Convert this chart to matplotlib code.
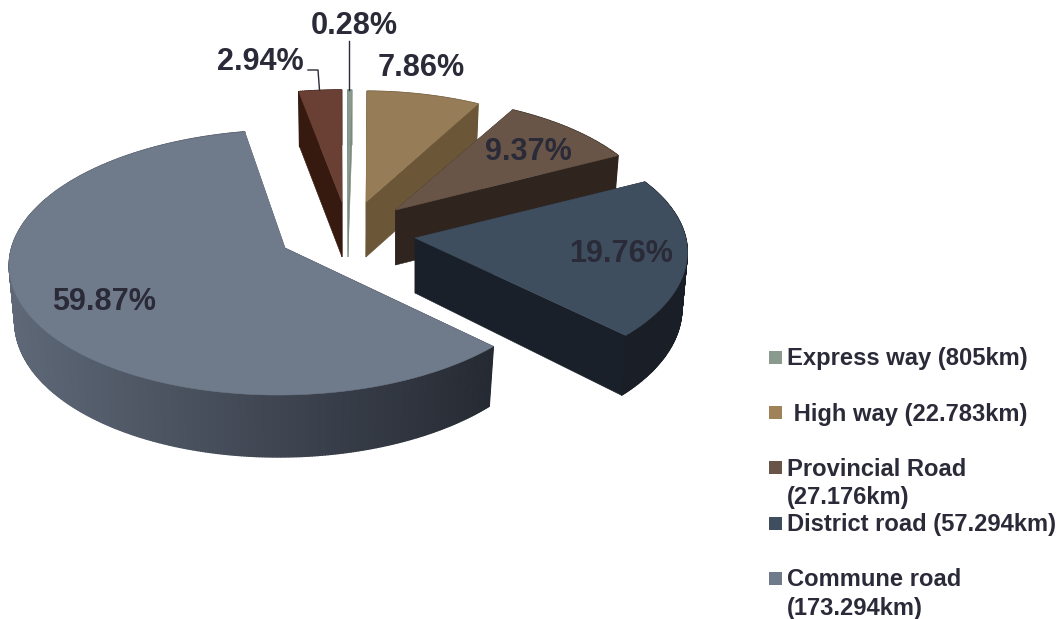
import numpy as np
import matplotlib
matplotlib.use("Agg")
import matplotlib.pyplot as plt
from matplotlib.colors import to_rgb
from matplotlib.patches import Polygon, Rectangle

plt.rcParams['font.family'] = ['Liberation Sans', 'DejaVu Sans']

# road network shares, in clockwise drawing order
shares = [59.87, 2.94, 0.28, 7.86, 9.37, 19.76]
share_labels = ["59.87%", "2.94%", "0.28%", "7.86%", "9.37%", "19.76%"]

legend_labels = [
    ["Express way (805km)"],
    [" High way (22.783km)"],
    ["Provincial Road", "(27.176km)"],
    ["District road (57.294km)"],
    ["Commune road", "(173.294km)"],
]

# layout of each exploded slice, same order as shares
apex_x = [285, 342, 348, 366, 395.5, 415]
apex_y = [248, 202, 202, 202, 210, 238]
radius_scale = [1.0, 0.95, 0.95, 0.94, 0.96, 0.99]
lean = [6, 0, 0, -3, 0, 0]
draw_order = [1, 2, 3, 4, 5, 0]

top_colors = ["#6f7a8a", "#6a4035", "#8b9a8e", "#967c57", "#685548", "#3f4e5e"]
wall_left = ["#5e6877", "#36190f", "#7b8a7e", "#6b5638", "#30251e", "#1a2029"]
wall_right = ["#262a33", "#36190f", "#7b8a7e", "#6b5638", "#30251e", "#191e24"]

legend_colors = ["#8b9a8e", "#a08259", "#685548", "#3f4e5e", "#6f7a8a"]
legend_y = [[358.5], [414.5], [469.5, 497.5], [524.5], [579.5, 608.5]]
legend_box_y = [357, 412, 467, 523, 578]

label_x = [104, 260, 354, 421, 528, 621]
label_y = [302.5, 61.5, 25.5, 68.5, 152.5, 253.5]
text_color = "#2a2a38"

START_ANGLE = 134.0
RX = 273.4
RY = 130.9
PERSPECTIVE = 0.1095
DEPTH = 55.0


def project(theta, cx, cy, scale, shear):
    # circle point seen in perspective, theta clockwise from the back of the pie
    u = np.sin(theta)
    v = np.cos(theta)
    w = 1 + PERSPECTIVE * v
    return cx + scale * RX * u / w + shear * v / w, cy - scale * RY * v / w


def drop(x, y, theta, cx):
    # matching point on the lower rim of the slab
    v = np.cos(theta)
    depth = DEPTH + 7 * np.maximum(0, -v)
    return cx + (x - cx) * 0.98, y + depth


def mix(c1, c2, t):
    a = np.array(to_rgb(c1))
    b = np.array(to_rgb(c2))
    return tuple(a + (b - a) * t)


fig = plt.figure(figsize=(10.6, 6.19), dpi=100)
ax = fig.add_axes([0, 0, 1, 1])
ax.set_xlim(0, 1060)
ax.set_ylim(619, 0)
ax.axis('off')

sweeps = np.array(shares) / sum(shares) * 360
starts = START_ANGLE + np.concatenate([[0], np.cumsum(sweeps)[:-1]])

for i in draw_order:
    cx, cy, s = apex_x[i], apex_y[i], radius_scale[i]
    thetas = np.radians(np.linspace(starts[i], starts[i] + sweeps[i], max(int(sweeps[i] * 2), 3) + 1))
    x, y = project(thetas, cx, cy, s, lean[i])
    bx, by = drop(x, y, thetas, cx)

    # flat cut faces
    for k in [0, -1]:
        color = wall_right[i] if k == 0 else wall_left[i]
        pts = [(cx, cy), (x[k], y[k]), (bx[k], by[k]), (cx, cy + DEPTH)]
        ax.add_patch(Polygon(pts, closed=True, facecolor=color, edgecolor=color, lw=0.4))

    # outer rim, shaded from left to right
    for k in range(len(x) - 1):
        t = (x[k] - x.min()) / (x.max() - x.min()) if i == 0 else 0.5
        color = mix(wall_left[i], wall_right[i], np.clip(t, 0, 1))
        pts = [(x[k], y[k]), (x[k + 1], y[k + 1]), (bx[k + 1], by[k + 1]), (bx[k], by[k])]
        ax.add_patch(Polygon(pts, closed=True, facecolor=color, edgecolor=color, lw=1.0))

    top = np.column_stack([np.r_[cx, x], np.r_[cy, y]])
    ax.add_patch(Polygon(top, closed=True, facecolor=top_colors[i], edgecolor=top_colors[i], lw=0.4))

for i, label in enumerate(share_labels):
    ax.text(label_x[i], label_y[i], label, fontsize=22.1, fontweight='bold',
            color=text_color, ha='center', va='center')

# leader lines for the two thin slices
ax.plot([308, 318, 319.5], [70, 70, 90], color=text_color, lw=1)
ax.plot([349, 349], [41, 90], color=text_color, lw=1)

for i, lines in enumerate(legend_labels):
    ax.add_patch(Rectangle((769, legend_box_y[i] - 6.5), 13, 13, facecolor=legend_colors[i], edgecolor='none'))
    for line, y in zip(lines, legend_y[i]):
        ax.text(787, y, line, fontsize=17.1, fontweight='bold',
                color=text_color, ha='left', va='center')

plt.savefig("out.png", dpi=100)
plt.close()
